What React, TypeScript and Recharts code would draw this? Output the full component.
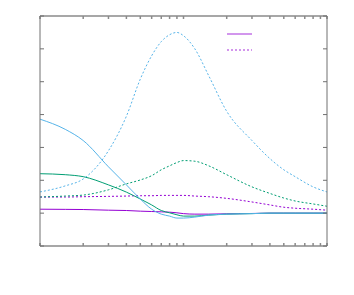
import React from 'react';
import { LineChart, Line, XAxis, YAxis, Legend } from 'recharts';

const xValues = [0.1, 0.15, 0.2, 0.3, 0.4, 0.5, 0.6, 0.7, 0.8, 0.9, 1, 1.2, 1.5, 2, 3, 4, 5, 6, 8, 10];

const blueSolid = [2.86, 2.55, 2.21, 1.41, 0.86, 0.43, 0.12, -0.03, -0.09, -0.15, -0.15, -0.12, -0.06, -0.03, -0.015, 0, 0, 0, 0, 0];
const blueDotted = [0.645, 0.83, 1.04, 1.9, 2.95, 4.08, 4.79, 5.22, 5.43, 5.5, 5.4, 5.0, 4.18, 3.1, 2.21, 1.66, 1.32, 1.11, 0.8, 0.645];
const greenSolid = [1.2, 1.17, 1.11, 0.86, 0.64, 0.43, 0.25, 0.08, 0.01, -0.05, -0.09, -0.09, -0.06, -0.03, -0.015, 0, 0, 0, 0, 0];
const greenDotted = [0.49, 0.52, 0.55, 0.71, 0.89, 1.01, 1.14, 1.32, 1.44, 1.54, 1.6, 1.58, 1.44, 1.17, 0.8, 0.6, 0.46, 0.37, 0.28, 0.21];
const purpleSolid = [0.12, 0.115, 0.11, 0.09, 0.08, 0.06, 0.05, 0.04, 0.03, 0.01, -0.015, -0.03, -0.03, -0.02, -0.01, 0, 0, 0, 0, 0];
const purpleDotted = [0.49, 0.49, 0.5, 0.51, 0.52, 0.53, 0.53, 0.54, 0.54, 0.54, 0.54, 0.52, 0.5, 0.45, 0.34, 0.25, 0.18, 0.15, 0.12, 0.09];

const xTicks = [0.1, 0.2, 0.3, 0.4, 0.5, 0.6, 0.7, 0.8, 0.9, 1, 2, 3, 4, 5, 6, 7, 8, 9, 10];
const yTicks = [-1, 0, 1, 2, 3, 4, 5, 6];

const PURPLE = '#9400d3';
const GREEN = '#009e73';
const BLUE = '#56b4e9';
const AXIS = '#8a8a8a';

const data = xValues.map((x, i) => ({
  x,
  ps: purpleSolid[i],
  pd: purpleDotted[i],
  gs: greenSolid[i],
  gd: greenDotted[i],
  bs: blueSolid[i],
  bd: blueDotted[i],
}));

const keyOrder = ['ps', 'pd'];

// only the two purple series are keyed, like in the original
const KeyLines: React.FC<any> = ({ payload }) => {
  const keyed = (payload || [])
    .filter((e: any) => keyOrder.includes(e.dataKey))
    .sort((a: any, b: any) => keyOrder.indexOf(a.dataKey) - keyOrder.indexOf(b.dataKey));
  return (
    <svg width={28} height={24}>
      {keyed.map((entry: any, i: number) => (
        <line
          key={entry.dataKey}
          x1={1}
          x2={26}
          y1={4 + i * 16}
          y2={4 + i * 16}
          stroke={PURPLE}
          strokeWidth={1.5}
          strokeOpacity={0.55}
          strokeDasharray={entry.dataKey === 'pd' ? '2 2' : undefined}
        />
      ))}
    </svg>
  );
};

const blank = () => '';

export default function App() {
  return (
    <div style={{ position: 'absolute', left: 0, top: 0, width: 354, height: 295, background: '#fff' }}>
      <LineChart width={354} height={295} data={data} margin={{ top: 16, right: 27, bottom: 49, left: 40 }}>
        <XAxis
          dataKey="x"
          type="number"
          scale="log"
          domain={[0.1, 10]}
          allowDataOverflow
          ticks={xTicks}
          tickFormatter={blank}
          mirror
          height={1}
          tickSize={3}
          stroke={AXIS}
          strokeWidth={1.5}
        />
        <XAxis
          xAxisId="top"
          dataKey="x"
          type="number"
          scale="log"
          orientation="top"
          domain={[0.1, 10]}
          allowDataOverflow
          ticks={xTicks}
          tickFormatter={blank}
          mirror
          height={1}
          tickSize={3}
          stroke={AXIS}
          strokeWidth={1.5}
        />
        <YAxis
          type="number"
          domain={[-1, 6]}
          allowDataOverflow
          ticks={yTicks}
          tickFormatter={blank}
          mirror
          width={1}
          tickSize={4}
          stroke="#707070"
        />
        <YAxis
          yAxisId="r"
          orientation="right"
          type="number"
          domain={[-1, 6]}
          allowDataOverflow
          ticks={yTicks}
          tickFormatter={blank}
          mirror
          width={1}
          tickSize={4}
          stroke="#707070"
        />
        <Legend
          layout="horizontal"
          verticalAlign="middle"
          align="center"
          content={<KeyLines />}
          wrapperStyle={{ top: 30, left: 226, width: 28, height: 24 }}
        />
        <Line dataKey="ps" stroke={PURPLE} strokeWidth={1} dot={false} type="monotone" isAnimationActive={false} />
        <Line dataKey="pd" stroke={PURPLE} strokeWidth={1} strokeDasharray="2 2" dot={false} type="monotone" isAnimationActive={false} />
        <Line dataKey="gs" stroke={GREEN} strokeWidth={1} dot={false} type="monotone" isAnimationActive={false} />
        <Line dataKey="gd" stroke={GREEN} strokeWidth={1} strokeDasharray="2 2" dot={false} type="monotone" isAnimationActive={false} />
        <Line dataKey="bs" stroke={BLUE} strokeWidth={1} dot={false} type="monotone" isAnimationActive={false} />
        <Line dataKey="bd" stroke={BLUE} strokeWidth={1} strokeDasharray="2 2" dot={false} type="monotone" isAnimationActive={false} />
      </LineChart>
    </div>
  );
}
